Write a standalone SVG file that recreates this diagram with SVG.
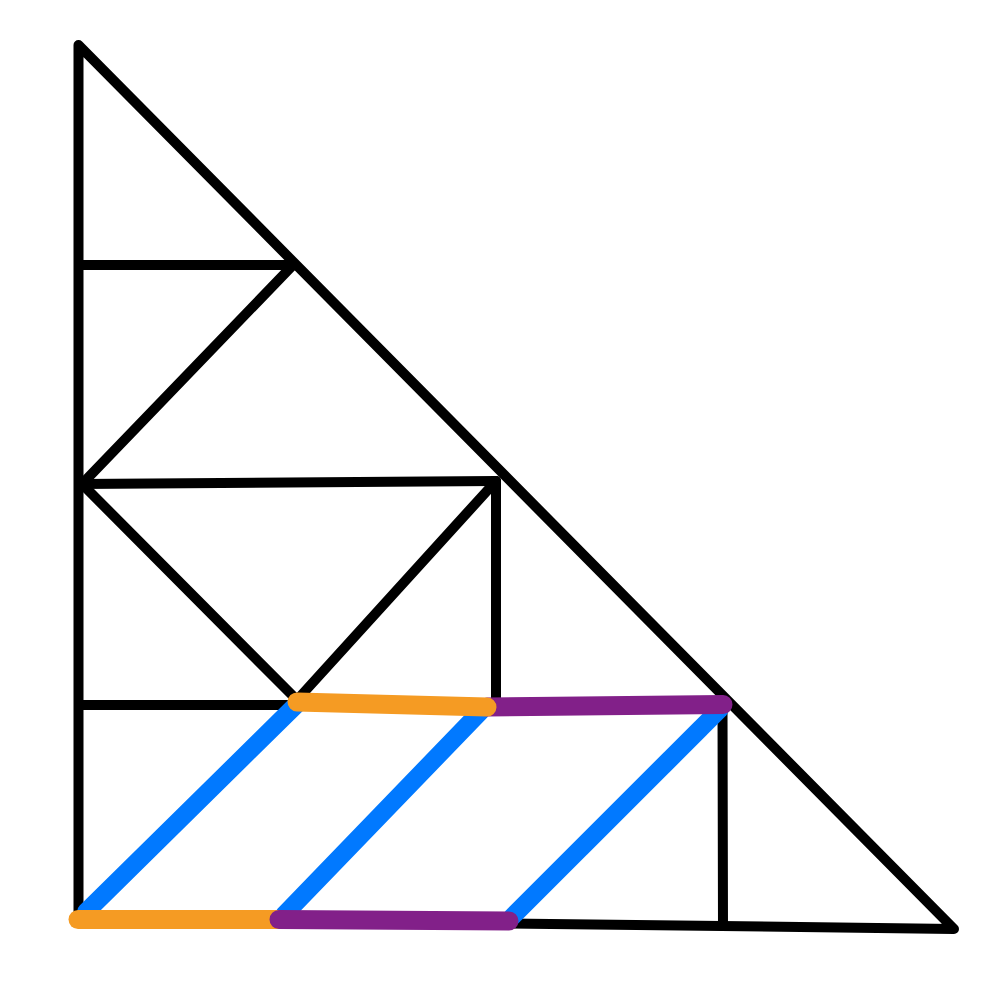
<svg xmlns="http://www.w3.org/2000/svg" width="1004" height="1000" viewBox="0 0 1004 1000">
<style>
.k{stroke:#000;stroke-width:10;stroke-linecap:round;stroke-linejoin:round;fill:none}
.b{stroke:#0179ff;stroke-width:18;stroke-linecap:round;fill:none}
.o{stroke:#f59b23;stroke-width:19;stroke-linecap:round;fill:none}
.p{stroke:#822089;stroke-width:19;stroke-linecap:round;fill:none}
</style>
<rect width="1004" height="1000" fill="#fff"/>
<g id="frame">
<path class="k" d="M78.5,918 L78.5,45 L954,929 Z"/>
</g>
<g id="connectors">
<line class="k" x1="80" y1="265" x2="293" y2="265"/>
<line class="k" x1="293" y1="265" x2="82" y2="484"/>
<line class="k" x1="80" y1="484" x2="496" y2="481"/>
<line class="k" x1="82" y1="484" x2="297" y2="700"/>
<line class="k" x1="297" y1="700" x2="496" y2="481"/>
<line class="k" x1="496" y1="481" x2="496" y2="705"/>
<line class="k" x1="80" y1="705" x2="297" y2="705"/>
<line class="k" x1="722.5" y1="705" x2="723" y2="926"/>
<line class="b" x1="86" y1="912" x2="297" y2="704"/>
<line class="b" x1="284" y1="915" x2="481" y2="711"/>
<line class="b" x1="512" y1="917" x2="720" y2="709"/>
<line class="p" x1="487" y1="707" x2="723" y2="704.5"/>
<line class="o" x1="297" y1="702" x2="487" y2="707"/>
<line class="o" x1="78" y1="919.5" x2="279" y2="919.5"/>
<line class="p" x1="279" y1="919.5" x2="509" y2="921"/>
</g>
</svg>
